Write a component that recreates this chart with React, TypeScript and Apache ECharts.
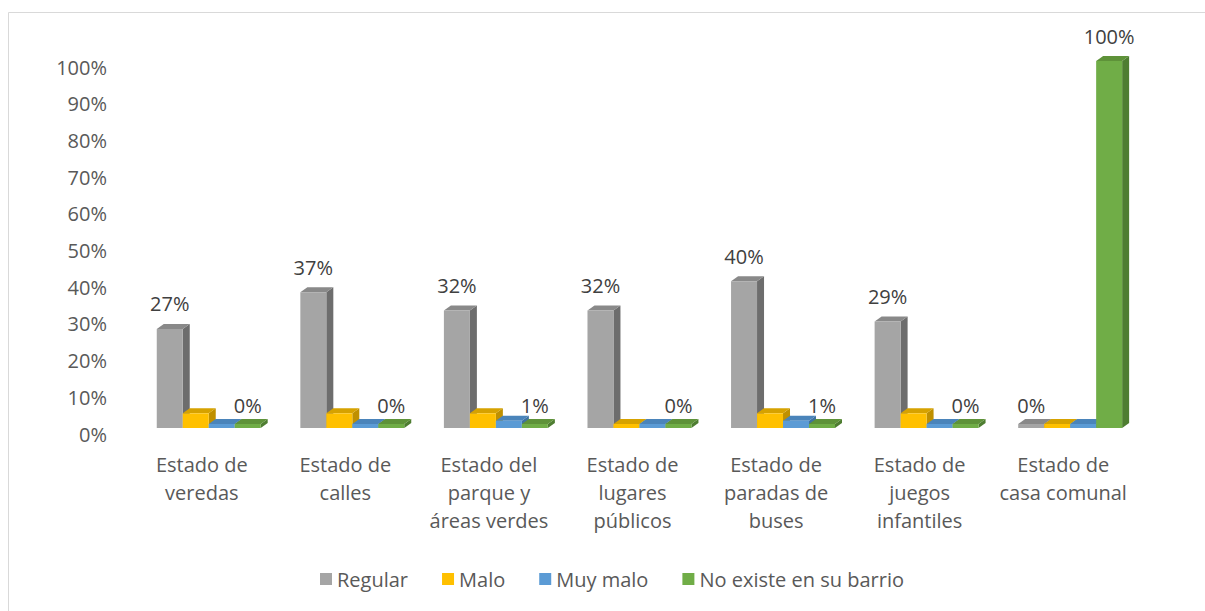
import React, { useEffect, useRef } from "react";
import * as echarts from "echarts";

const categories = [
  "Estado de\nveredas",
  "Estado de\ncalles",
  "Estado del\nparque y\náreas verdes",
  "Estado de\nlugares\npúblicos",
  "Estado de\nparadas de\nbuses",
  "Estado de\njuegos\ninfantiles",
  "Estado de\ncasa comunal",
];
const seriesNames = ["Regular", "Malo", "Muy malo", "No existe en su barrio"];
const regular = [27, 37, 32, 32, 40, 29, 0];
const malo = [4, 4, 4, 0, 4, 4, 0];
const muyMalo = [0, 0, 2, 0, 2, 0, 0];
const noExiste = [0, 0, 1, 0, 1, 0, 100];
const showLabels = [true, false, false, true];

const faceColors = [
  { front: "#A5A5A5", side: "#6D6D6D", top: "#898989" },
  { front: "#FFC000", side: "#BF9000", top: "#D6A200" },
  { front: "#5B9BD5", side: "#3F72A0", top: "#4A84BA" },
  { front: "#70AD47", side: "#4E7D31", top: "#5E9239" },
];

const FONT = "'Open Sans', 'Noto Sans', sans-serif";

function makeRender(si: number) {
  return (params: any, api: any) => {
    const idx = api.value(0);
    const val = api.value(1);
    const base = api.coord([idx, 0]);
    const top = api.coord([idx, val]);
    const bw = api.size([1, 0])[0];
    const cx = base[0];
    const y0 = base[1];
    const yt = Math.min(top[1], y0 - 4);
    const w = bw * 0.181;
    const x = cx - bw * 0.3136 + si * w;
    const dx = 7;
    const dy = 5;
    const c = faceColors[si];
    const children: any[] = [
      {
        type: "polygon",
        shape: {
          points: [
            [x + w, yt],
            [x + w + dx, yt - dy],
            [x + w + dx, y0 - dy],
            [x + w, y0],
          ],
        },
        style: { fill: c.side },
      },
      {
        type: "polygon",
        shape: {
          points: [
            [x, yt],
            [x + dx, yt - dy],
            [x + w + dx, yt - dy],
            [x + w, yt],
          ],
        },
        style: { fill: c.top },
      },
      {
        type: "rect",
        shape: { x: x, y: yt, width: w, height: y0 - yt },
        style: { fill: c.front },
      },
    ];
    if (showLabels[si]) {
      children.push({
        type: "text",
        x: x + w / 2,
        y: yt - (val > 1 ? 25 : 19),
        style: {
          text: val + "%",
          fill: "#404040",
          font: "20px " + FONT,
          align: "center",
          verticalAlign: "middle",
        },
      });
    }
    return { type: "group", children };
  };
}

export default function App() {
  const ref = useRef<HTMLDivElement>(null);
  useEffect(() => {
    document.body.style.margin = "0";
    const chart = echarts.init(ref.current!, null, { renderer: "svg" });
    const all = [regular, malo, muyMalo, noExiste];
    chart.setOption({
      animation: false,
      backgroundColor: "#ffffff",
      textStyle: { fontFamily: FONT },
      graphic: [
        {
          type: "rect",
          shape: { x: 8.5, y: 12.5, width: 1300, height: 700 },
          style: { fill: "none", stroke: "#D9D9D9", lineWidth: 1 },
          silent: true,
        },
      ],
      legend: {
        left: 315,
        top: 564,
        itemWidth: 12,
        itemHeight: 12,
        itemGap: 34,
        icon: "rect",
        textStyle: { fontSize: 20, color: "#595959", fontFamily: FONT },
        data: seriesNames,
      },
      grid: [
        { left: 130, right: 70, top: 61, bottom: 183 },
        { left: 130, right: 70, top: 67, bottom: 177 },
      ],
      xAxis: [
        {
          type: "category",
          gridIndex: 0,
          data: categories,
          axisLine: { show: false },
          axisTick: { show: false },
          axisLabel: {
            interval: 0,
            fontSize: 20,
            lineHeight: 28,
            color: "#595959",
            margin: 22,
            fontFamily: FONT,
          },
        },
        {
          type: "category",
          gridIndex: 1,
          data: categories,
          show: false,
        },
      ],
      yAxis: [
        {
          type: "value",
          gridIndex: 0,
          min: 0,
          max: 100,
          interval: 10,
          show: false,
        },
        {
          type: "value",
          gridIndex: 1,
          min: 0,
          max: 100,
          interval: 10,
          splitLine: { show: false },
          axisLine: { show: false },
          axisTick: { show: false },
          axisLabel: {
            formatter: "{value}%",
            fontSize: 20,
            color: "#595959",
            margin: 23,
            fontFamily: FONT,
          },
        },
      ],
      series: all.map((arr, si) => ({
        type: "custom",
        name: seriesNames[si],
        xAxisIndex: 0,
        yAxisIndex: 0,
        clip: false,
        itemStyle: { color: faceColors[si].front },
        renderItem: makeRender(si),
        encode: { x: 0, y: 1 },
        data: arr.map((v, i) => [i, v]),
      })),
    });
    return () => chart.dispose();
  }, []);
  return <div ref={ref} style={{ width: 1205, height: 611 }} />;
}
